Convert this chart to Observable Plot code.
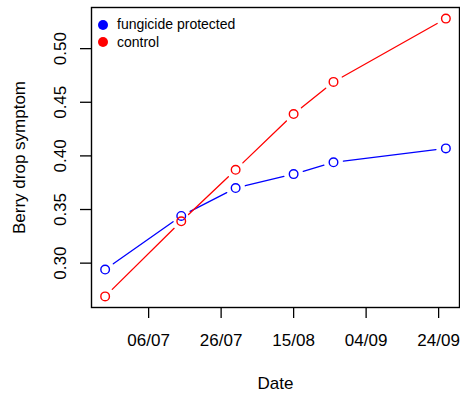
<!DOCTYPE html>
<html>
<head>
<meta charset="utf-8">
<script src="https://cdn.jsdelivr.net/npm/d3@7"></script>
<script src="https://cdn.jsdelivr.net/npm/@observablehq/plot@0.6"></script>
<style>
  html, body { margin: 0; padding: 0; background: #fff; }
  #wrap { position: relative; width: 460px; height: 397px; font-family: "Liberation Sans", Arial, Helvetica, sans-serif; }
  #legend { position: absolute; left: 98px; top: 16px; font-size: 14px; line-height: 17.6px; color: #000; }
  #legend .row { display: flex; align-items: center; white-space: nowrap; }
  #legend .sw { width: 10px; height: 10px; border-radius: 50%; margin-right: 9px; }
</style>
</head>
<body>
<div id="wrap"></div>
<script>
// Data
const dates = ["2019-06-24", "2019-07-15", "2019-07-30", "2019-08-15", "2019-08-26", "2019-09-26"];
const fungicide = [0.294, 0.344, 0.370, 0.383, 0.394, 0.407];
const control = [0.269, 0.339, 0.387, 0.439, 0.469, 0.528];
const seriesNames = ["fungicide protected", "control"];
const seriesColors = ["#0000ff", "#ff0000"];
const xTickLabels = ["2019-07-06", "2019-07-26", "2019-08-15", "2019-09-04", "2019-09-24"];
const yTickLabels = [0.30, 0.35, 0.40, 0.45, 0.50];

const parse = d3.utcParse("%Y-%m-%d");
const seriesValues = [fungicide, control];
const points = [];
const segments = [];
seriesValues.forEach((vals, s) => {
  vals.forEach((v, i) => {
    points.push({date: parse(dates[i]), value: v, series: seriesNames[s]});
    if (i < vals.length - 1) {
      segments.push({x1: parse(dates[i]), y1: v, x2: parse(dates[i + 1]), y2: vals[i + 1], series: seriesNames[s]});
    }
  });
});
const xTicks = xTickLabels.map(parse);

// R-style 4% extension of the data range
const xExt = d3.extent(points, d => d.date);
const xPad = (xExt[1] - xExt[0]) * 0.04;
const yExt = d3.extent(points, d => d.value);
const yPad = (yExt[1] - yExt[0]) * 0.04;

const font = "\"Liberation Sans\", Arial, Helvetica, sans-serif";

const chart = Plot.plot({
  width: 460,
  height: 397,
  marginLeft: 91,
  marginRight: 1,
  marginTop: 7,
  marginBottom: 90,
  style: {fontFamily: font, background: "#fff", color: "#000"},
  x: {type: "utc", domain: [new Date(+xExt[0] - xPad), new Date(+xExt[1] + xPad)]},
  y: {domain: [yExt[0] - yPad, yExt[1] + yPad]},
  color: {domain: seriesNames, range: seriesColors},
  marks: [
    Plot.axisX(xTicks, {tickSize: 11, tickFormat: () => "", label: null, strokeWidth: 1.3}),
    Plot.text(xTicks, {x: d => d, frameAnchor: "bottom", dy: 33, lineAnchor: "middle", text: d3.utcFormat("%d/%m"), fontSize: 17}),
    Plot.axisY(yTickLabels, {tickSize: 11, tickFormat: () => "", label: null, strokeWidth: 1.3}),
    Plot.text(yTickLabels, {y: d => d, frameAnchor: "left", dx: -31, rotate: -90, textAnchor: "middle", lineAnchor: "middle", text: d3.format(".2f"), fontSize: 17}),
    Plot.text(["Date"], {frameAnchor: "bottom", dy: 76, lineAnchor: "middle", fontSize: 17}),
    Plot.text(["Berry drop symptom"], {frameAnchor: "left", dx: -72, rotate: -90, textAnchor: "middle", lineAnchor: "middle", fontSize: 17}),
    Plot.frame({stroke: "#000", strokeWidth: 1.4}),
    Plot.arrow(segments, {x1: "x1", y1: "y1", x2: "x2", y2: "y2", stroke: "series", strokeWidth: 1.3, headLength: 0, insetStart: 10, insetEnd: 10}),
    Plot.dot(points, {x: "date", y: "value", stroke: "series", r: 4.3, strokeWidth: 1.4, fill: "none"})
  ]
});

const wrap = document.getElementById("wrap");
wrap.appendChild(chart);

const legend = document.createElement("div");
legend.id = "legend";
seriesNames.forEach((name, i) => {
  const row = document.createElement("div");
  row.className = "row";
  const sw = document.createElement("span");
  sw.className = "sw";
  sw.style.background = seriesColors[i];
  const label = document.createElement("span");
  label.textContent = name;
  row.appendChild(sw);
  row.appendChild(label);
  legend.appendChild(row);
});
wrap.appendChild(legend);
</script>
</body>
</html>
